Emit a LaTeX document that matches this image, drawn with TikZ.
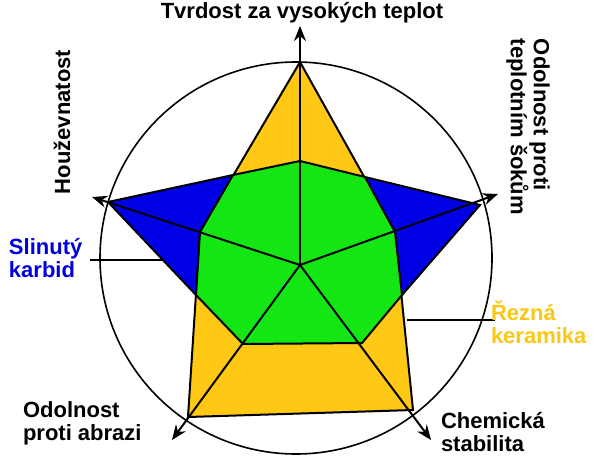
\documentclass[tikz,border=0pt]{standalone}
\usepackage{fontspec}
\setmainfont{Liberation Sans}
\usetikzlibrary{arrows.meta}
\begin{document}
\begin{tikzpicture}[x=1pt,y=-1pt,line width=2pt,
  lbl/.style={font=\fontsize{22}{23}\selectfont\bfseries,inner sep=0pt,align=left},
  ax/.style={-{Stealth[length=15pt,width=12pt]}}]
\useasboundingbox (0,0) rectangle (609,462);
\fill[white] (0,0) rectangle (609,462);
\coordinate (c) at (300,265);
% blue
\filldraw[fill={rgb,255:red,0;green,0;blue,230},draw=black] (108,202)--(233,175)--(300,160)--(365,177)--(480,205)--(402,295)--(300,380)--(196,295)--cycle;
% yellow
\filldraw[fill={rgb,255:red,255;green,200;blue,20},draw=black] (300,62)--(395,232)--(413,410)--(188,417)--(200,232)--cycle;
% green
\filldraw[fill={rgb,255:red,20;green,230;blue,20},draw=black] (300,161)--(365,177)--(395,232)--(402,295)--(362,343)--(243,344)--(196,295)--(200,232)--(233,175)--cycle;
\draw[line width=1.6pt] (296,258) circle (196);
\coordinate (t1) at (300,26);
\coordinate (t2) at (92,197);
\coordinate (t3) at (498,194);
\coordinate (t4) at (172,440);
\coordinate (t5) at (431,440);
\foreach \t in {t1,t2,t3,t4,t5} \draw[ax] (c)--(\t);
% leaders
\coordinate (s1) at (90,260); \coordinate (s2) at (162,260);
\coordinate (r1) at (407,320); \coordinate (r2) at (495,320);
\draw[line width=1.5pt] (s1)--(s2);
\draw[line width=1.5pt] (r1)--(r2);
\node[lbl,anchor=north] (a1) at (302,1) {Tvrdost za vysokých teplot};
\node[lbl,rotate=90] (a2) at (62,122) {Houževnatost};
\node[lbl,rotate=-90,anchor=center] (a3) at (528,127) {Odolnost proti\\teplotním šokům};
\node[lbl,text={rgb,255:red,0;green,0;blue,220},anchor=west] (b1) at (8,258) {Slinutý\\karbid};
\node[lbl,text={rgb,255:red,250;green,200;blue,20},anchor=west] (b2) at (490,322) {Řezná\\keramika};
\node[lbl,anchor=west] (a4) at (22,423) {Odolnost\\proti abrazi};
\node[lbl,anchor=west] (a5) at (440,432) {Chemická\\stabilita};
\end{tikzpicture}
\end{document}
